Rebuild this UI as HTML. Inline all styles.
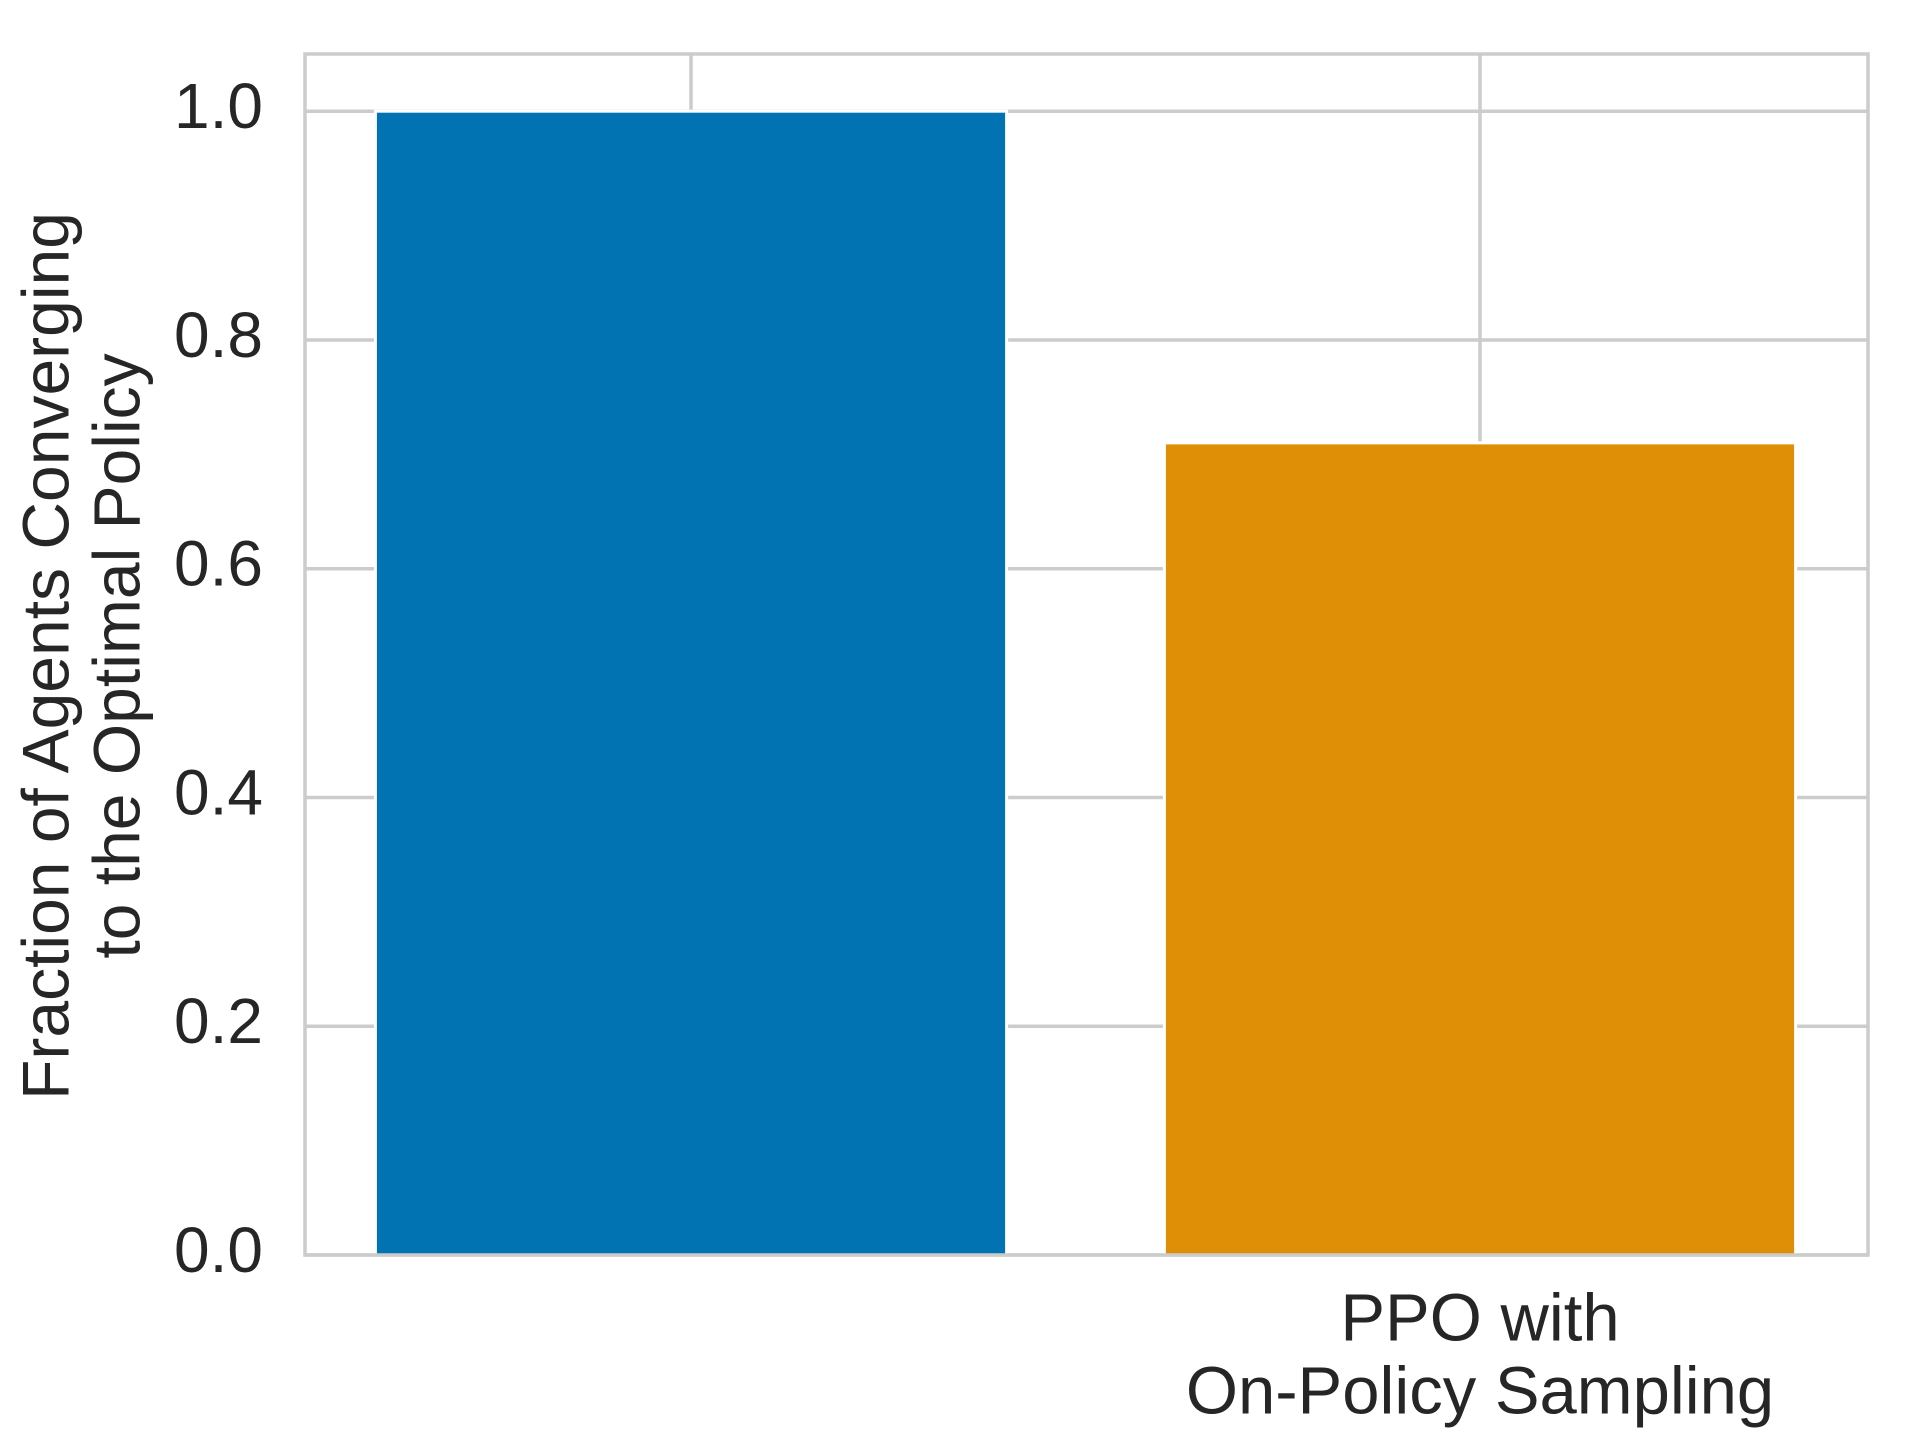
<!DOCTYPE html>
<html><head><meta charset="utf-8"><style>
html,body{margin:0;padding:0;background:#fff;}
svg text{font-family:"Liberation Sans",sans-serif;fill:#262626;}
</style></head><body>
<svg id="chart" width="1920" height="1440" xmlns="http://www.w3.org/2000/svg">
<rect width="1920" height="1440" fill="#fff"/>
<g id="grid"></g>
<g id="bars"></g>
<g id="ticks"></g>
<rect x="305" y="54" width="1563" height="1201" fill="none" stroke="#cccccc" stroke-width="3.5"/>
<text font-size="66" text-anchor="middle" transform="translate(51,656) rotate(-90)" dominant-baseline="middle">Fraction of Agents Converging</text>
<text font-size="66" text-anchor="middle" transform="translate(122,656) rotate(-90)" dominant-baseline="middle">to the Optimal Policy</text>
</svg>
<script>
const categories = ["", "PPO with\nOn-Policy Sampling"];
const values = [1.0, 0.71];
const colors = ["#0173b2", "#de8f05"];
const yTicks = [0, 0.2, 0.4, 0.6, 0.8, 1.0];
const yTickLabels = ["0.0", "0.2", "0.4", "0.6", "0.8", "1.0"];

const NS = "http://www.w3.org/2000/svg";
const L = 305, R = 1868, T = 54, B = 1255, yMax = 1.05;
const y = v => B - (v / yMax) * (B - T);
const band = 789;
const x = i => 691 + i * band;
const barW = band * 0.8;

const grid = document.getElementById('grid');
const bars = document.getElementById('bars');
const ticks = document.getElementById('ticks');
function mk(tag, attrs, parent) { const e = document.createElementNS(NS, tag); for (const k in attrs) e.setAttribute(k, attrs[k]); parent.appendChild(e); return e; }

yTicks.forEach((t, i) => {
  const ln = mk('line', {x1: L, x2: R, y1: y(t), y2: y(t), stroke: '#cccccc', 'stroke-width': 3.5}, grid);
  
  
  const tx = mk('text', {x: 263, y: y(t), 'font-size': 64, 'text-anchor': 'end', 'dominant-baseline': 'middle'}, ticks);
  tx.textContent = yTickLabels[i];
  
  
});
categories.forEach((c, i) => {
  const ln = mk('line', {x1: x(i), x2: x(i), y1: T, y2: B, stroke: '#cccccc', 'stroke-width': 3.5}, grid);
  
  
  const r = mk('rect', {x: x(i) - barW / 2, y: y(values[i]), width: barW, height: B - y(values[i]), fill: colors[i], stroke: '#fff', 'stroke-width': 3}, bars);
  
  
  c.split('\n').forEach((line, j) => {
    if (!line) return;
    const tx = mk('text', {x: x(i), y: 1323 + j * 73, 'font-size': 67, 'text-anchor': 'middle', 'dominant-baseline': 'middle'}, ticks);
    tx.textContent = line;
    
    
  });
});
</script>
</body></html>
